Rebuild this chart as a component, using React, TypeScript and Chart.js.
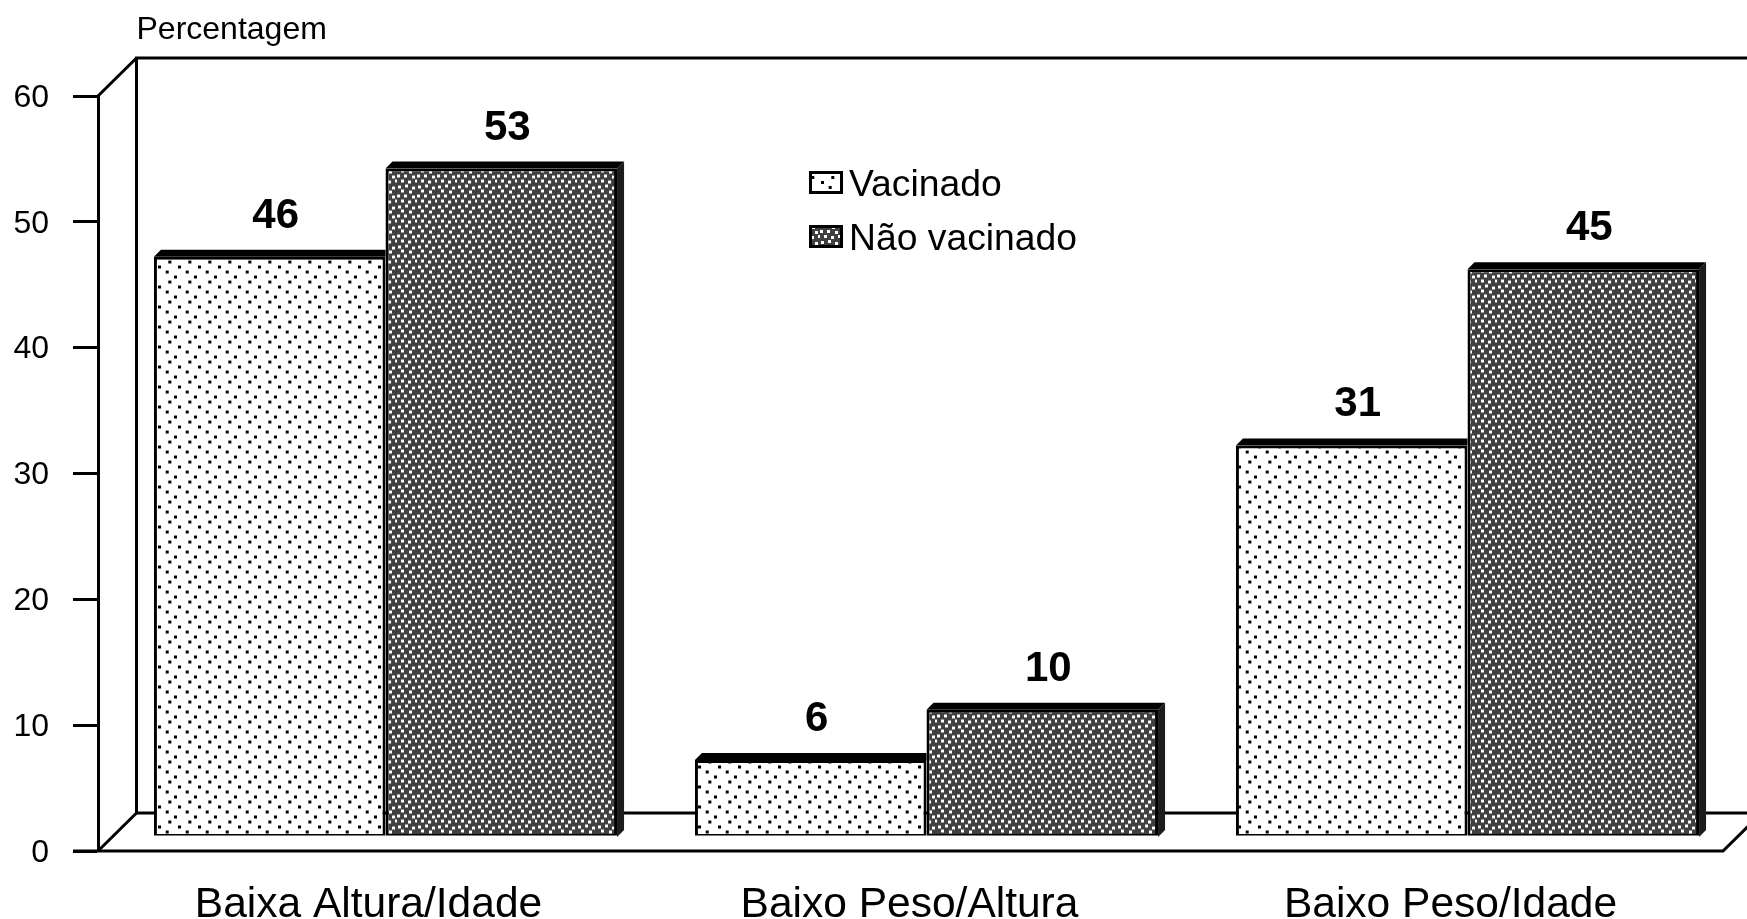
import React, { useEffect, useRef } from "react";
import { Chart, registerables } from "chart.js";

Chart.register(...registerables);

const categories = ["Baixa Altura/Idade", "Baixo Peso/Altura", "Baixo Peso/Idade"];
const vacinado = [46, 6, 31];
const naoVacinado = [53, 10, 45];
const seriesNames = ["Vacinado", "Não vacinado"];
const axisTitle = "Percentagem";

const FONT = '"Liberation Sans", Arial, sans-serif';
const BAR_SHIFT_X = 17;
const BAR_SHIFT_Y = -15.5;
const BAR_DEPTH = 7;
const WALL_DX = 38.5;
const WALL_DY = 38;
const FLOOR_END = 1723;
const LIGHT_DOTS = [[1, 1], [8.7, 6], [17, 11], [11.3, 16]];
const DARK_DOTS = [
  [1, 1], [8, 0], [15, 2], [4, 5], [12, 6], [0, 10], [7, 10],
  [15, 11], [4, 15], [11, 16], [18, 15],
];

function makePattern(bg: string, dot: string, dots: number[][]) {
  const c = document.createElement("canvas");
  c.width = 20;
  c.height = 20;
  const x = c.getContext("2d")!;
  x.fillStyle = bg;
  x.fillRect(0, 0, 20, 20);
  x.fillStyle = dot;
  for (const d of dots) x.fillRect(d[0], d[1], 3, 3);
  return x.createPattern(c, "repeat")!;
}

function line(ctx: CanvasRenderingContext2D, pts: number[][]) {
  ctx.beginPath();
  pts.forEach((p, i) => (i ? ctx.lineTo(p[0], p[1]) : ctx.moveTo(p[0], p[1])));
  ctx.stroke();
}

const frame3d = {
  id: "frame3d",
  beforeDatasetsDraw(chart: any) {
    const { ctx, chartArea: a } = chart;
    const bx = a.left + WALL_DX;
    const tY = a.top - WALL_DY;
    const fY = a.bottom - WALL_DY;
    ctx.save();
    ctx.strokeStyle = "#000";
    ctx.lineWidth = 3;
    line(ctx, [[1747, tY], [bx, tY], [bx, fY], [1747, fY]]);
    line(ctx, [[a.left, a.top], [bx, tY]]);
    line(ctx, [[a.left, a.bottom], [bx, fY]]);
    line(ctx, [[a.left - 25, a.bottom], [FLOOR_END, a.bottom], [FLOOR_END + WALL_DX, fY]]);
    ctx.restore();
  },
  beforeDatasetDraw(chart: any, args: any) {
    const { ctx } = chart;
    const isLast = args.index === chart.data.datasets.length - 1;
    ctx.save();
    ctx.translate(BAR_SHIFT_X, BAR_SHIFT_Y);
    const d = BAR_DEPTH;
    for (const el of chart.getDatasetMeta(args.index).data) {
      const l = el.x - el.width / 2;
      const r = el.x + el.width / 2;
      ctx.fillStyle = "#000";
      ctx.beginPath();
      ctx.moveTo(l, el.y);
      ctx.lineTo(l + d, el.y - d);
      ctx.lineTo(isLast ? r + d : r, el.y - d);
      ctx.lineTo(r, el.y);
      ctx.closePath();
      ctx.fill();
      if (isLast) {
        ctx.fillStyle = "#1c1c1c";
        ctx.beginPath();
        ctx.moveTo(r, el.y);
        ctx.lineTo(r + d, el.y - d);
        ctx.lineTo(r + d, el.base - d);
        ctx.lineTo(r, el.base);
        ctx.closePath();
        ctx.fill();
      }
    }
  },
  afterDatasetDraw(chart: any) {
    chart.ctx.restore();
  },
  afterDatasetsDraw(chart: any) {
    const { ctx, chartArea: a } = chart;
    const yScale = chart.scales.y;
    ctx.save();
    ctx.fillStyle = "#000";
    ctx.textBaseline = "middle";
    ctx.textAlign = "center";
    ctx.font = `bold 42px ${FONT}`;
    chart.data.datasets.forEach((ds: any, i: number) => {
      chart.getDatasetMeta(i).data.forEach((el: any, j: number) => {
        ctx.fillText(String(ds.data[j]), el.x + BAR_SHIFT_X + 6, el.y + BAR_SHIFT_Y - 40.5);
      });
    });
    ctx.textAlign = "right";
    ctx.font = `32px ${FONT}`;
    yScale.ticks.forEach((t: any) => {
      ctx.fillText(String(t.value), 49, yScale.getPixelForValue(t.value) + 2);
    });
    ctx.textAlign = "left";
    ctx.fillText(axisTitle, a.left + WALL_DX, 30);
    ctx.font = `37.3px ${FONT}`;
    chart.data.datasets.forEach((ds: any, i: number) => {
      const y = i === 0 ? 171 : 225;
      ctx.fillStyle = ds.backgroundColor;
      ctx.fillRect(809, y, 34, 23);
      ctx.strokeStyle = "#000";
      ctx.lineWidth = 3;
      ctx.strokeRect(810.5, y + 1.5, 31, 20);
      ctx.fillStyle = "#000";
      ctx.fillText(ds.label, 849, y + 15);
    });
    ctx.restore();
  },
};

export default function App() {
  const ref = useRef<HTMLCanvasElement>(null);
  useEffect(() => {
    const light = makePattern("#ffffff", "#000000", LIGHT_DOTS);
    const dark = makePattern("#404040", "#ffffff", DARK_DOTS);
    const chart = new Chart(ref.current!, {
      type: "bar",
      data: {
        labels: categories,
        datasets: [
          { label: seriesNames[0], data: vacinado, base: -0.12, backgroundColor: light as any, borderColor: "#000", borderWidth: 3, borderSkipped: false },
          { label: seriesNames[1], data: naoVacinado, base: -0.12, backgroundColor: dark as any, borderColor: "#000", borderWidth: 3, borderSkipped: false },
        ],
      },
      options: {
        responsive: false,
        animation: false,
        layout: { padding: { top: 96, right: 26, left: 0, bottom: 0 } },
        plugins: { legend: { display: false }, title: { display: false }, tooltip: { enabled: false } },
        datasets: { bar: { categoryPercentage: 0.856, barPercentage: 1 } },
        scales: {
          x: {
            grid: { display: false },
            border: { display: false },
            afterFit: (s: any) => { s.height = 68; },
            ticks: { color: "#000", autoSkip: false, maxRotation: 0, padding: 21, font: { family: FONT, size: 42.5 } },
          },
          y: {
            min: 0,
            max: 60,
            afterFit: (s: any) => { s.width = 98; },
            grid: { drawOnChartArea: false, tickLength: 25, tickWidth: 3, tickColor: "#000" },
            border: { display: true, color: "#000", width: 3 },
            ticks: { stepSize: 10, display: false },
          },
        },
      },
      plugins: [frame3d],
    } as any);
    return () => chart.destroy();
  }, []);
  return (
    <canvas
      ref={ref}
      width={1747}
      height={919}
      style={{ position: "fixed", left: 0, top: 0, width: 1747, height: 919 }}
    />
  );
}
